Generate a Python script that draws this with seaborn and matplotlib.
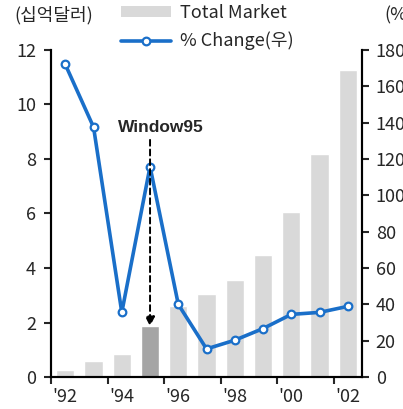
import numpy as np
import pandas as pd
import seaborn as sns
import matplotlib
matplotlib.use("Agg")
import matplotlib.pyplot as plt
from matplotlib.patches import Patch
from matplotlib.lines import Line2D

years = [str(y) for y in range(1992, 2003)]
market = [0.25, 0.6, 0.83, 1.86, 2.6, 3.03, 3.55, 4.49, 6.05, 8.18, 11.27]
pct_change = [172, 137.5, 35.6, 115.8, 40.0, 15.5, 20.3, 26.7, 34.5, 35.6, 38.9]
tick_labels = ["'92", "'94", "'96", "'98", "'00", "'02"]
highlight = "1995"

LIGHT = "#d9d9d9"
DARK = "#a5a5a5"
BLUE = "#1a6fc9"

sns.set_style("ticks")
plt.rcParams['font.family'] = ['Noto Sans CJK KR', 'DejaVu Sans']
plt.rcParams['font.size'] = 13

df = pd.DataFrame({"year": years, "market": market, "pct": pct_change})
colors = {y: (DARK if y == highlight else LIGHT) for y in years}

fig = plt.figure(figsize=(4.03, 4.09), dpi=100)
ax = fig.add_axes([0.127, 0.078, 0.771, 0.8])
sns.barplot(data=df, x="year", y="market", hue="year", palette=colors,
            legend=False, width=0.65, ax=ax, saturation=1)
ax.set_ylim(0, 12)
ax.set_xlim(-0.5, len(years) - 0.5)
ax.set_yticks(range(0, 13, 2))
ax.set_xlabel("")
ax.set_ylabel("")

# tick marks between categories, labels on every other bar
ax.set_xticks(np.arange(-0.5, len(years) - 1, 2))
ax.set_xticklabels([])
ax.set_xticks(np.arange(0, len(years), 2), minor=True)
ax.set_xticklabels(tick_labels, minor=True)
ax.tick_params(axis="x", which="minor", length=0, pad=8, labelsize=13)
ax.tick_params(axis="x", which="major", length=5, width=1.5, direction="out")
ax.tick_params(axis="y", length=5, width=1.5, labelsize=13, pad=6)

ax2 = ax.twinx()
sns.lineplot(x=np.arange(len(years)), y=df["pct"], ax=ax2, color=BLUE, lw=2.6,
             marker="o", markersize=5.5, markerfacecolor="white",
             markeredgecolor=BLUE, markeredgewidth=1.6)
ax2.set_ylim(0, 180)
ax2.set_yticks(range(0, 181, 20))
ax2.set_ylabel("")
ax2.tick_params(axis="y", length=5, width=1.5, labelsize=13, pad=5)

for a in (ax, ax2):
    a.spines["top"].set_visible(False)
    for s in ("left", "right", "bottom"):
        a.spines[s].set_linewidth(1.5)
        a.spines[s].set_color("black")

# annotation
hi = years.index(highlight)
ax.text(hi + 0.4, 9.17, "Window95", ha="center", va="center",
        fontsize=12.5, fontweight="bold", family=["Liberation Sans", "DejaVu Sans"],
        zorder=10)
ax2.annotate("", xy=(hi, market[hi] * 15), xytext=(hi, 8.7 * 15),
             arrowprops=dict(arrowstyle="-|>", linestyle=(0, (3, 2)), color="black",
                             lw=1.4, mutation_scale=14, shrinkA=0, shrinkB=0),
             zorder=10)

handles = [Patch(facecolor=LIGHT, edgecolor="none"),
           Line2D([], [], color=BLUE, lw=2.6, marker="o", markersize=5.5,
                  markerfacecolor="white", markeredgecolor=BLUE, markeredgewidth=1.6)]
fig.legend(handles, ["Total Market", "% Change(우)"], loc="upper left",
           bbox_to_anchor=(0.295, 0.995), frameon=False, fontsize=13,
           handlelength=2.8, handleheight=0.5, handletextpad=0.5,
           labelspacing=0.55, borderpad=0.1, borderaxespad=0)

fig.text(0.035, 0.962, "(십억달러)", ha="left", va="center", fontsize=13)
fig.text(0.953, 0.962, "(%)", ha="left", va="center", fontsize=13)

fig.savefig("out.png", dpi=100)
